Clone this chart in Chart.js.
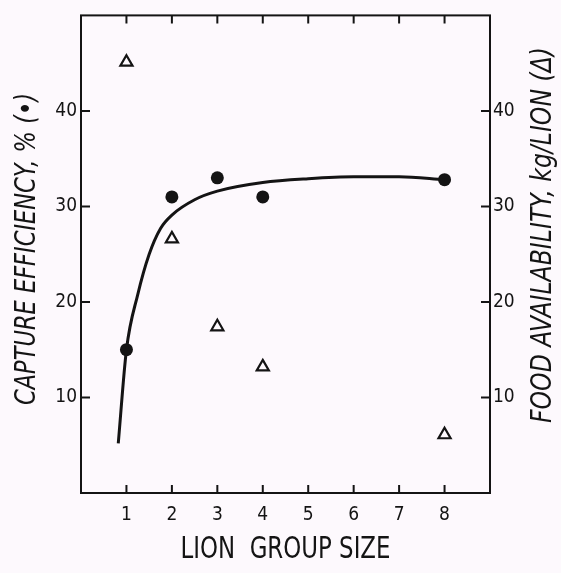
<!DOCTYPE html>
<html>
<head>
<meta charset="utf-8">
<script src="https://cdn.jsdelivr.net/npm/chart.js@4"></script>
<style>
  html, body { margin: 0; padding: 0; background: #fdf9fd; }
  #wrap { width: 561px; height: 573px; }
</style>
</head>
<body>
<div id="wrap"><canvas id="lionChart" width="561" height="573"></canvas></div>
<script>
// groepsgrootte en gemeten waarden
const groupSizes = [1, 2, 3, 4, 8];
const captureEfficiency = [15.0, 31.0, 33.0, 31.0, 32.8];   // % (linker as)
const foodAvailability = [45.1, 26.6, 17.4, 13.2, 6.1];     // kg/leeuw (rechter as)

// handgetekende trendlijn door de vangstefficientie
const curveX = [0.82, 1.0, 1.25, 1.5, 1.75, 2.0, 2.5, 3.0, 4.0, 5.0, 6.0, 7.0, 8.0];
const curveY = [5.2, 15.0, 20.8, 25.0, 27.7, 29.1, 30.7, 31.6, 32.5, 32.9, 33.1, 33.1, 32.8];

// as-labels
const xTickValues = [1, 2, 3, 4, 5, 6, 7, 8];
const yTickValues = [10, 20, 30, 40];
const xTitle = 'LION  GROUP SIZE';
const yTitle = 'CAPTURE EFFICIENCY, % (\u2022)';
const y2Title = 'FOOD AVAILABILITY, kg/LION (\u0394)';

const ink = '#141414';
const fontFam = "'Liberation Sans Narrow', 'DejaVu Sans Condensed', sans-serif";

/* tekst smaller maken zodat hij even lang is als in het origineel */
function drawFitted(ctx, text, cx, cy, rot, font, len) {
  ctx.save();
  ctx.font = font;
  ctx.textAlign = 'center';
  ctx.textBaseline = 'middle';
  const w = ctx.measureText(text).width;
  ctx.translate(cx, cy);
  ctx.rotate(rot);
  ctx.scale(len / w, 1);
  ctx.fillText(text, 0, 0);
  ctx.restore();
}

/* tekent het kader, de naar binnen gerichte streepjes en de titels */
const framePlugin = {
  id: 'frame',
  afterDraw(chart) {
    const ctx = chart.ctx;
    const a = chart.chartArea;
    const x = chart.scales.x, y = chart.scales.y, y2 = chart.scales.y2;
    ctx.save();
    ctx.strokeStyle = ink;
    ctx.lineWidth = 2;
    ctx.strokeRect(a.left, a.top, a.right - a.left, a.bottom - a.top);

    // streepjes boven en onder
    xTickValues.forEach(v => {
      const px = x.getPixelForValue(v);
      ctx.beginPath();
      ctx.moveTo(px, a.bottom); ctx.lineTo(px, a.bottom - 8);
      ctx.moveTo(px, a.top); ctx.lineTo(px, a.top + 8);
      ctx.stroke();
    });
    // streepjes links en rechts
    yTickValues.forEach(v => {
      const pl = y.getPixelForValue(v);
      const pr = y2.getPixelForValue(v);
      ctx.beginPath();
      ctx.moveTo(a.left, pl); ctx.lineTo(a.left + 9, pl);
      ctx.moveTo(a.right, pr); ctx.lineTo(a.right - 9, pr);
      ctx.stroke();
    });
    ctx.fillStyle = ink;
    // titels (beide y-titels van onder naar boven)
    drawFitted(ctx, xTitle, (a.left + a.right) / 2, 550, 0, '30px ' + fontFam, 210);
    drawFitted(ctx, yTitle, 27, 249, -Math.PI / 2, 'italic 29px ' + fontFam, 312);
    drawFitted(ctx, y2Title, 543, 235, -Math.PI / 2, 'italic 29px ' + fontFam, 376);
    ctx.restore();
  }
};

const ctx = document.getElementById('lionChart').getContext('2d');
new Chart(ctx, {
  type: 'scatter',
  data: {
    datasets: [
      {
        label: 'trend',
        type: 'line',
        data: curveX.map((v, i) => ({ x: v, y: curveY[i] })),
        yAxisID: 'y',
        borderColor: ink,
        borderWidth: 3,
        pointRadius: 0,
        fill: false,
        cubicInterpolationMode: 'monotone'
      },
      {
        label: 'Capture efficiency',
        data: groupSizes.map((v, i) => ({ x: v, y: captureEfficiency[i] })),
        yAxisID: 'y',
        pointStyle: 'circle',
        pointRadius: 6.5,
        backgroundColor: ink,
        borderColor: ink,
        borderWidth: 0
      },
      {
        label: 'Food availability',
        data: groupSizes.map((v, i) => ({ x: v, y: foodAvailability[i] })),
        yAxisID: 'y2',
        pointStyle: 'triangle',
        pointRadius: 7,
        backgroundColor: '#fdf9fd',
        borderColor: ink,
        borderWidth: 2.2
      }
    ]
  },
  options: {
    responsive: false,
    animation: false,
    layout: { padding: { top: 9, left: 0, right: 0, bottom: 0 } },
    plugins: {
      legend: { display: false },
      tooltip: { enabled: false }
    },
    scales: {
      x: {
        type: 'linear',
        position: 'bottom',
        min: 0,
        max: 9,
        afterFit: s => { s.height = 80; },
        border: { display: false },
        grid: { display: false, drawTicks: false },
        ticks: {
          stepSize: 1,
          padding: 11,
          color: ink,
          font: { family: fontFam, size: 19 },
          callback: v => xTickValues.includes(v) ? String(v) : ''
        }
      },
      y: {
        position: 'left',
        min: 0,
        max: 50,
        afterFit: s => { s.width = 81; },
        border: { display: false },
        grid: { display: false, drawTicks: false },
        ticks: {
          stepSize: 10,
          padding: 4,
          color: ink,
          font: { family: fontFam, size: 19 },
          callback: v => yTickValues.includes(v) ? String(v) : ''
        }
      },
      y2: {
        position: 'right',
        min: 0,
        max: 50,
        afterFit: s => { s.width = 71; },
        border: { display: false },
        grid: { display: false, drawTicks: false },
        ticks: {
          stepSize: 10,
          padding: 3,
          color: ink,
          font: { family: fontFam, size: 19 },
          callback: v => yTickValues.includes(v) ? String(v) : ''
        }
      }
    }
  },
  plugins: [framePlugin]
});
</script>
</body>
</html>
